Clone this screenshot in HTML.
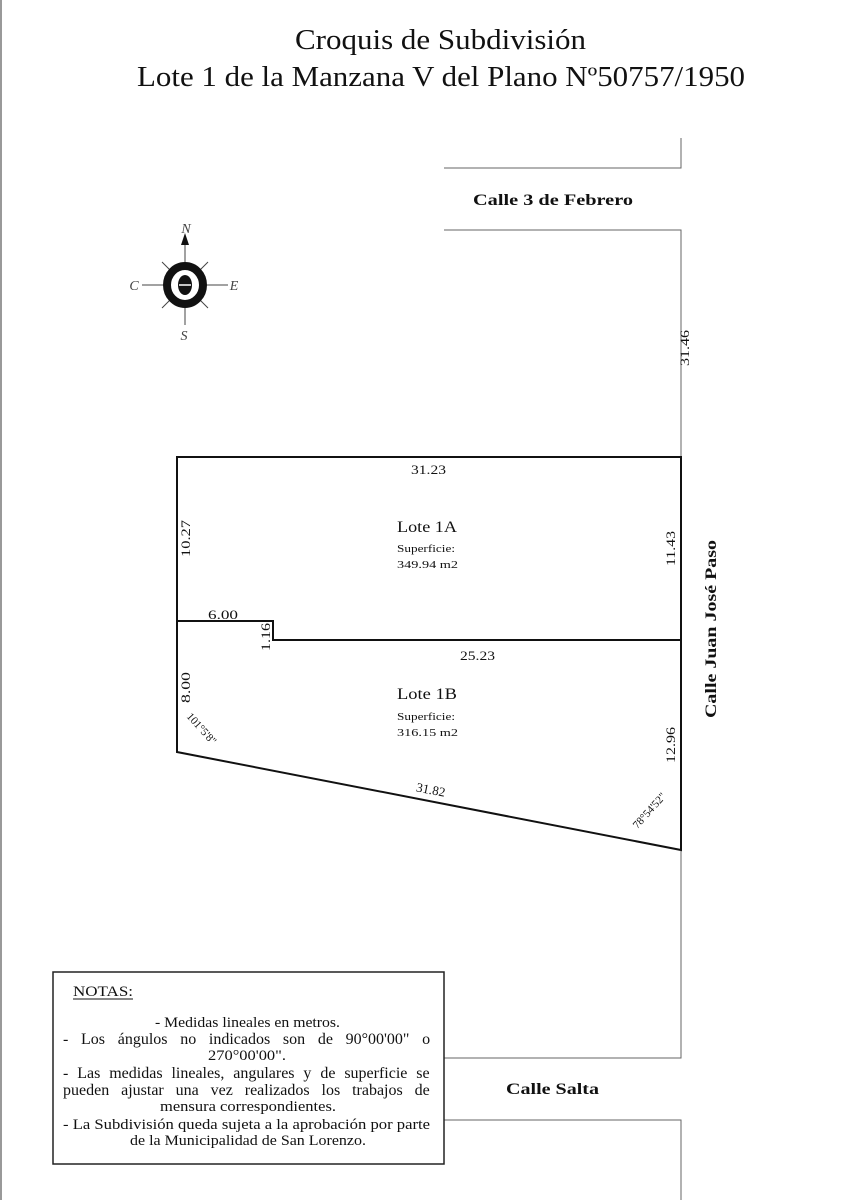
<!DOCTYPE html>
<html><head><meta charset="utf-8"><style>
html,body{margin:0;padding:0;background:#fff;}
body{width:848px;height:1200px;position:relative;overflow:hidden;}
svg{position:absolute;left:0;top:0;}
</style></head><body>
<svg width="848" height="1200" viewBox="0 0 848 1200" font-family="Liberation Serif, serif" fill="#111">
<line x1="1" y1="0" x2="1" y2="1200" stroke="#999" stroke-width="2"/>
<text x="295" y="49" font-size="28" textLength="291" lengthAdjust="spacingAndGlyphs">Croquis de Subdivisión</text>
<text x="137" y="86" font-size="28" textLength="608" lengthAdjust="spacingAndGlyphs">Lote 1 de la Manzana V del Plano Nº50757/1950</text>
<g stroke="#666" stroke-width="1" fill="none">
<polyline points="681,138 681,168 444,168"/>
<polyline points="444,230 681,230 681,457"/>
<polyline points="681,850 681,1058 444,1058"/>
<polyline points="444,1120 681,1120 681,1200"/>
</g>
<g stroke="#111" stroke-width="2" fill="none">
<polygon points="177,457 681,457 681,850 177,752"/>
<polyline points="177,621 273,621 273,640 681,640"/>
</g>
<text x="473" y="205" font-size="16" font-weight="bold" textLength="160" lengthAdjust="spacingAndGlyphs">Calle 3 de Febrero</text>
<text x="506" y="1094" font-size="16" font-weight="bold" textLength="93" lengthAdjust="spacingAndGlyphs">Calle Salta</text>
<text transform="translate(716,718) rotate(-90)" font-size="16" font-weight="bold" textLength="178" lengthAdjust="spacingAndGlyphs">Calle Juan José Paso</text>
<g font-size="13">
<text transform="translate(689,366) rotate(-90)" textLength="36" lengthAdjust="spacingAndGlyphs">31.46</text>
<text x="411" y="474" textLength="35" lengthAdjust="spacingAndGlyphs">31.23</text>
<text transform="translate(190,557) rotate(-90)" textLength="37" lengthAdjust="spacingAndGlyphs">10.27</text>
<text transform="translate(675,566) rotate(-90)" textLength="35" lengthAdjust="spacingAndGlyphs">11.43</text>
<text x="208" y="619" textLength="30" lengthAdjust="spacingAndGlyphs">6.00</text>
<text transform="translate(270,651) rotate(-90)" textLength="28" lengthAdjust="spacingAndGlyphs">1.16</text>
<text x="460" y="660" textLength="35" lengthAdjust="spacingAndGlyphs">25.23</text>
<text transform="translate(190,703) rotate(-90)" textLength="31" lengthAdjust="spacingAndGlyphs">8.00</text>
<text transform="translate(675,763) rotate(-90)" textLength="36" lengthAdjust="spacingAndGlyphs">12.96</text>
<text transform="translate(430,794) rotate(11)" text-anchor="middle">31.82</text>
<text transform="translate(199,731) rotate(48)" text-anchor="middle" font-size="11">101°5'8"</text>
<text transform="translate(652,813) rotate(-48)" text-anchor="middle" font-size="11">78°54'52"</text>
</g>
<text x="397" y="532" font-size="16" textLength="60" lengthAdjust="spacingAndGlyphs">Lote 1A</text>
<text x="397" y="552" font-size="11" textLength="58" lengthAdjust="spacingAndGlyphs">Superficie:</text>
<text x="397" y="568" font-size="11" textLength="61" lengthAdjust="spacingAndGlyphs">349.94 m2</text>
<text x="397" y="699" font-size="16" textLength="60" lengthAdjust="spacingAndGlyphs">Lote 1B</text>
<text x="397" y="720" font-size="11" textLength="58" lengthAdjust="spacingAndGlyphs">Superficie:</text>
<text x="397" y="736" font-size="11" textLength="61" lengthAdjust="spacingAndGlyphs">316.15 m2</text>
<g stroke="#444" stroke-width="1">
<line x1="185" y1="240" x2="185" y2="325"/>
<line x1="142" y1="285" x2="228" y2="285"/>
<line x1="162" y1="262" x2="208" y2="308"/>
<line x1="208" y1="262" x2="162" y2="308"/>
</g>
<polygon points="185,233 181,245 189,245" fill="#111"/>
<ellipse cx="185" cy="285" rx="18" ry="19" fill="#fff" stroke="#111" stroke-width="8"/>
<ellipse cx="185" cy="285" rx="7" ry="10" fill="#111"/>
<line x1="179" y1="285" x2="191" y2="285" stroke="#fff" stroke-width="1.5"/>
<g font-size="14" font-style="italic" fill="#444">
<text x="186" y="233" text-anchor="middle">N</text>
<text x="134" y="290" text-anchor="middle">C</text>
<text x="234" y="290" text-anchor="middle">E</text>
<text x="184" y="340" text-anchor="middle">S</text>
</g>
<rect x="53" y="972" width="391" height="192" fill="none" stroke="#222" stroke-width="1.5"/>
<text x="73" y="996" font-size="15" textLength="60" lengthAdjust="spacingAndGlyphs">NOTAS:</text>
<line x1="73" y1="999" x2="133" y2="999" stroke="#111" stroke-width="1"/>
<g font-size="14.5">
<text x="155" y="1027" textLength="185" lengthAdjust="spacingAndGlyphs">- Medidas lineales en metros.</text>
<text x="63" y="1044" font-size="16" word-spacing="8.7">- Los ángulos no indicados son de 90°00'00" o</text>
<text x="208" y="1060" textLength="78" lengthAdjust="spacingAndGlyphs">270°00'00".</text>
<text x="63" y="1078" font-size="16" word-spacing="4.9">- Las medidas lineales, angulares y de superficie se</text>
<text x="63" y="1095" font-size="16" word-spacing="7.9">pueden ajustar una vez realizados los trabajos de</text>
<text x="160" y="1111" textLength="176" lengthAdjust="spacingAndGlyphs">mensura correspondientes.</text>
<text x="63" y="1129" textLength="367" lengthAdjust="spacingAndGlyphs">- La Subdivisión queda sujeta a la aprobación por parte</text>
<text x="130" y="1145" textLength="236" lengthAdjust="spacingAndGlyphs">de la Municipalidad de San Lorenzo.</text>
</g>
</svg>
</body></html>
